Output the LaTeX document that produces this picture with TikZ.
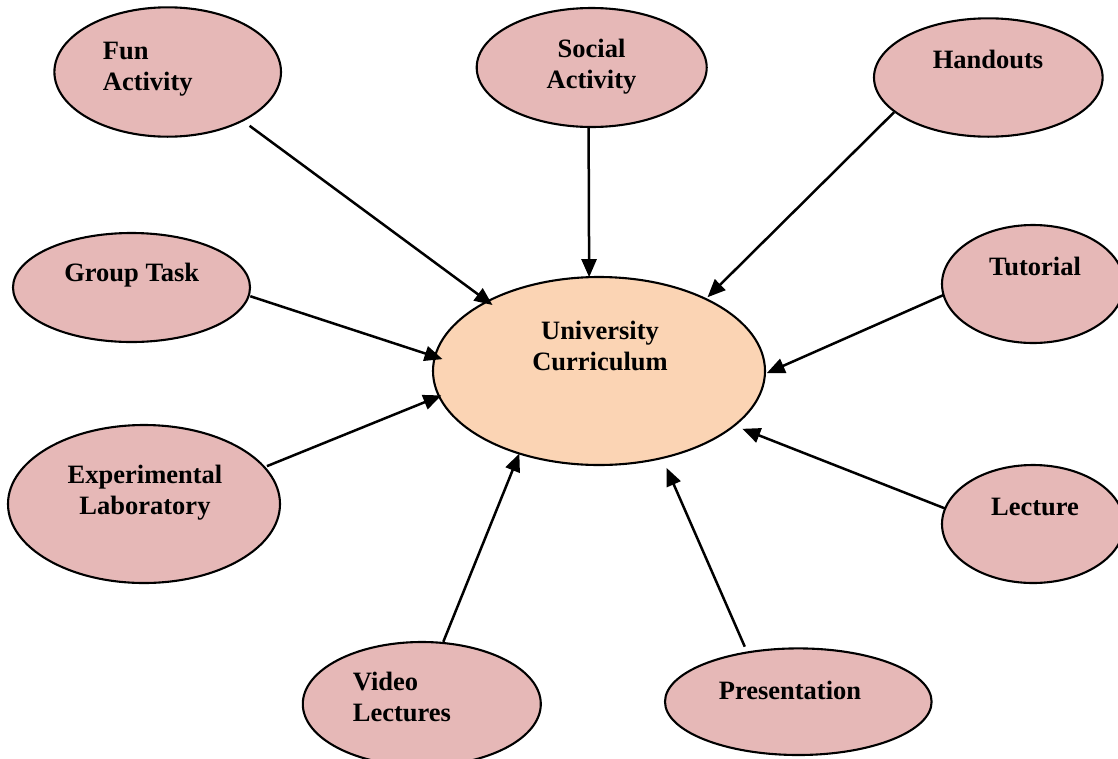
\documentclass[tikz,border=0pt]{standalone}
\usepackage{fontspec}
\setmainfont{Liberation Serif}
\usetikzlibrary{shapes.geometric,arrows.meta}
\definecolor{outerfill}{HTML}{E6B8B7}
\definecolor{centerfill}{HTML}{FBD4B4}
\begin{document}
\begin{tikzpicture}[x=1pt,y=-1pt,
  blob/.style={ellipse,draw=black,line width=2.1pt,fill=outerfill,inner sep=0pt,outer sep=0pt},
  hub/.style={blob,fill=centerfill},
  lbl/.style={font=\fontsize{26.5}{31}\selectfont\bfseries,inner sep=0pt,anchor=base},
  link/.style={line width=2.5pt,-{Triangle[length=18pt,width=15pt]}}
]
\clip (0,0) rectangle (1118,758);
% outer ellipses
\node[blob,minimum width=226.6pt,minimum height=129.4pt] (fun) at (167.7,72) {};
\node[blob,minimum width=230pt,minimum height=119pt] (social) at (591.7,67.5) {};
\node[blob,minimum width=228.6pt,minimum height=118.4pt] (handouts) at (988.3,77.5) {};
\node[blob,minimum width=237pt,minimum height=109pt] (group) at (131.5,287.5) {};
\node[blob,minimum width=182pt,minimum height=118pt] (tutorial) at (1033,284) {};
\node[blob,minimum width=272pt,minimum height=158pt] (exp) at (144,504) {};
\node[blob,minimum width=182pt,minimum height=118pt] (lecture) at (1033,524) {};
\node[blob,minimum width=238pt,minimum height=124pt] (video) at (421.8,704) {};
\node[blob,minimum width=266.6pt,minimum height=106.6pt] (present) at (798.3,701.7) {};
% hub
\node[hub,minimum width=332pt,minimum height=188pt] (uc) at (599,371) {};
% labels
\node[lbl,align=left,anchor=base west] (funL) at (102.7,90) {Fun\\Activity};
\node[lbl,align=center] (socialL) at (591.5,88) {Social\\Activity};
\node[lbl] (handoutsL) at (988,68) {Handouts};
\node[lbl] (groupL) at (131.7,281.7) {Group Task};
\node[lbl] (tutorialL) at (1035,275) {Tutorial};
\node[lbl,align=center] (ucL) at (600,370) {University\\Curriculum};
\node[lbl,align=center] (expL) at (145,514) {Experimental\\Laboratory};
\node[lbl] (lectureL) at (1035,515.7) {Lecture};
\node[lbl,align=left,anchor=base west] (videoL) at (352.7,721.7) {Video\\Lectures};
\node[lbl] (presentL) at (790,699) {Presentation};
% connectors
\draw[link,shorten <=8.8pt,shorten >=-6.2pt] (fun.-33.3) -- (uc.148.3);
\draw[link,shorten <=1pt] (social.-93) -- (uc.96.7);
\draw[link,shorten <=1pt,shorten >=2.5pt] (handouts.200.4) -- (uc.34.8);
\draw[link,shorten <=1.7pt,shorten >=-8pt] (group.-4.4) -- (uc.175.4);
\draw[link,shorten >=2pt] (tutorial.187.6) -- (uc.-1.9);
\draw[link,shorten <=2.8pt,shorten >=-2.4pt] (exp.17.2) -- (uc.189.9);
\draw[link,shorten >=8.8pt] (lecture.170.6) -- (uc.-22.2);
\draw[link,shorten <=1.3pt] (video.71) -- (uc.226.4);
\draw[link,shorten <=6.3pt,shorten >=10.8pt] (present.136.7) -- (uc.-54.1);
\end{tikzpicture}
\end{document}
